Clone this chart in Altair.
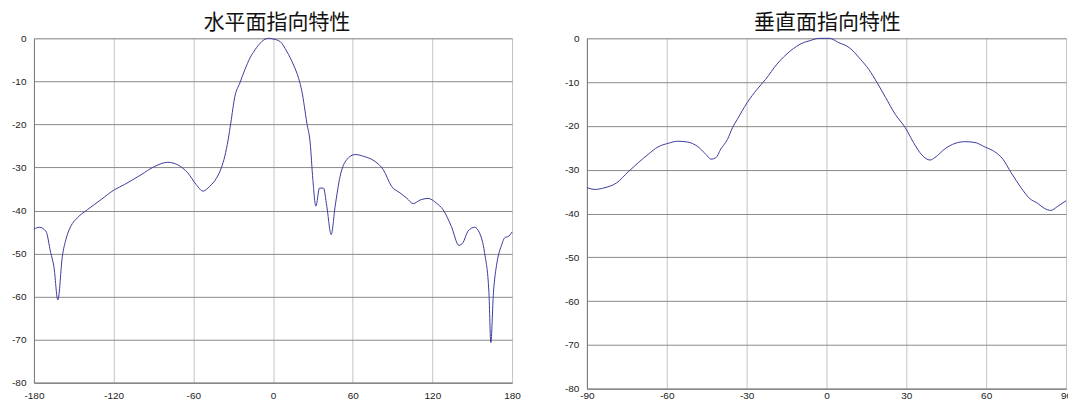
import altair as alt
import pandas as pd

# 水平面指向特性 (horizontal plane)
h_angle = [-180, -176, -171, -167.4, -165, -162, -158.6, -156, -152.3, -147.3, -139.7, -129.6,
           -119.5, -112, -99.4, -89.3, -79.2, -71.7, -64.1, -57.8, -52.7, -47.7, -42.6, -38.9,
           -36.3, -33.8, -31.8, -28.7, -25, -21.2, -17.4, -13.6, -8.6, -3.5, 0,
           5.5, 10.5, 15.5, 19.3, 21.8, 25.5, 28, 30, 32.3, 35, 38, 40.5, 43.8, 46.8, 50.5,
           55.5, 61.8, 68, 76.8, 83, 89.3, 95.6, 100.6, 105.6, 110.6, 116.8, 123.1, 128,
           134.3, 140, 143, 146.8, 151.8, 155.5, 159.3, 162.6, 164, 166, 168.6, 171.8, 175,
           176.8, 180]
h_level = [-44.3, -43.9, -44.8, -49.8, -53, -60.8, -50.6, -46.8, -43.7, -41.7, -39.8, -37.5,
           -35.2, -34, -31.7, -29.8, -28.8, -29.4, -31.3, -34, -35.5, -34.4, -32.5, -30.1,
           -27.4, -23.6, -19.7, -13.5, -10.4, -7.3, -4.6, -2.7, -0.8, 0, -0.15,
           -0.8, -3.1, -6.2, -9.3, -12.4, -19.7, -24.3, -32.8, -39, -34.8, -34.8, -39, -45.6,
           -39, -32.1, -28.2, -27, -27.4, -28.6, -30.5, -34.4, -35.9, -37.1, -38.4, -37.6,
           -37.2, -38.3, -39.8, -43.7, -48.1, -47.5, -44.8, -43.9, -45.2, -49.8, -59.1, -70.7,
           -59.1, -52.2, -48.3, -46.2, -46.1, -45]

# 垂直面指向特性 (vertical plane)
v_angle = [-90, -86.9, -83.2, -78.8, -74.5, -70.7, -67, -63.3, -59.6, -55.8, -52.1, -48.4,
           -45.3, -43.4, -41.6, -39.7, -37.2, -35.3, -33.5, -29.8, -26, -22.9, -18.6, -13.6,
           -8.7, -6.5, -2.7, 1, 4.7, 8.5, 12.8, 15.9, 19, 22.2, 25.9, 29.6, 32.7, 35.8, 38.9,
           40.8, 44.6, 48.3, 52, 55.8, 59.5, 63.2, 66.3, 69.4, 73.1, 76.2, 79.4, 81.8, 84.3,
           86.8, 90]
v_level = [-34.1, -34.5, -34.1, -33, -30.5, -28.4, -26.5, -24.8, -24, -23.5, -23.7, -24.7,
           -26.5, -27.6, -27.3, -25.3, -23.1, -20.4, -18.5, -14.7, -11.6, -9.4, -5.9, -2.9,
           -1, -0.6, 0, 0, -1, -2.1, -4.8, -7.1, -10.1, -13.5, -17.4, -20.4, -23.8, -26.6,
           -27.8, -27.2, -25.2, -24, -23.6, -23.8, -24.8, -25.9, -27.6, -30.7, -34.1, -36.5,
           -37.7, -38.8, -39.3, -38.4, -37.1]

y_ticks = list(range(-80, 1, 10))

LINE = "#3c3c9c"
FONT = "Liberation Sans"


def panel(angles, levels, title, lo, hi, step, w, h, dx, xpad):
    df = pd.DataFrame({"angle": angles, "level": levels})
    x_ticks = list(range(lo, hi + 1, step))
    line = alt.Chart(df).mark_line(color=LINE, strokeWidth=1, interpolate="monotone").encode(
        x=alt.X("angle:Q",
                scale=alt.Scale(domain=[lo, hi], nice=False, zero=False),
                axis=alt.Axis(values=x_ticks, title=None, grid=True, gridColor="#c4c4c4",
                              gridWidth=1, labelFont=FONT, labelFontSize=10, labelColor="#222",
                              domainColor="#777", ticks=False, labelPadding=xpad,
                              labelFlush=False, labelExpr="'' + datum.value")),
        y=alt.Y("level:Q",
                scale=alt.Scale(domain=[-80, 0], nice=False, zero=False),
                axis=alt.Axis(values=y_ticks, title=None, grid=True, gridColor="#8a8a8a",
                              gridWidth=1, labelFont=FONT, labelFontSize=10, labelColor="#222",
                              domainColor="#777", ticks=False, labelPadding=8,
                              labelExpr="'' + datum.value")),
    )
    return line.properties(
        width=w, height=h,
        title=alt.TitleParams(title, font="Noto Sans CJK JP", fontSize=21,
                              fontWeight="normal", color="#111", offset=0, anchor="middle",
                              dx=dx),
    )


left = panel(h_angle, h_level, "水平面指向特性", -180, 180, 60, 479, 345, 4, 8)
right = panel(v_angle, v_level, "垂直面指向特性", -90, 90, 30, 480, 351, 1, 2)

chart = alt.hconcat(left, right, spacing=75, bounds="flush").properties(
    padding={"left": 3, "top": 3, "right": -5, "bottom": -2}
).configure_view(stroke="#9a9a9a", strokeWidth=1).configure(background="white")

chart.save("out.html", embed_options={"renderer": "svg", "actions": False})
